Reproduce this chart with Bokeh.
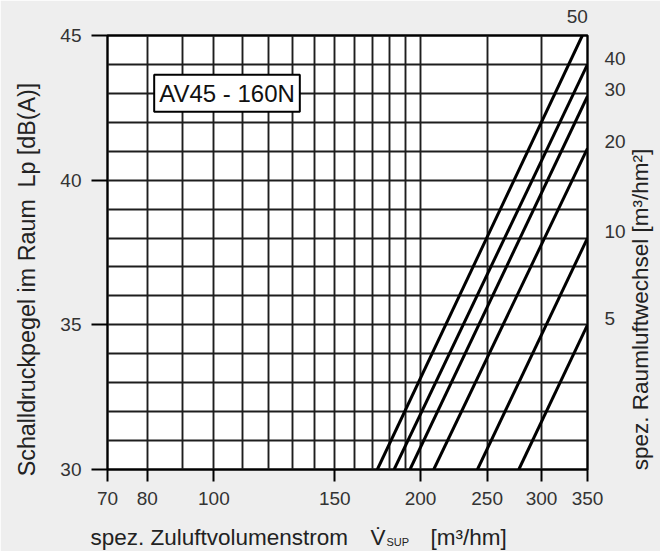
import math

from bokeh.plotting import figure
from bokeh.models import (Range1d, FixedTicker, Label, LinearAxis,
                          NumeralTickFormatter, ColumnDataSource)
from bokeh.embed import file_html
from bokeh.resources import INLINE

# Specific air change rate of each curve [m³/hm²]
air_change = [50, 40, 30, 20, 10, 5]
# Supply flow where each curve leaves the 30 dB(A) line [m³/hm]
flow_at_30 = [173, 183, 193, 209, 242, 278]
# End point of each curve (flow [m³/hm], sound pressure level [dB(A)])
flow_end = [344, 350, 350, 350, 350, 350]
level_end = [45.0, 44.0, 42.9, 41.1, 38.0, 35.0]

x_ticks = [70, 80, 100, 150, 200, 250, 300, 350]
x_grid = [70, 80, 90, 100, 110, 120, 130, 140, 150, 160, 170, 180, 190, 200, 250, 300, 350]
y_ticks = [30, 35, 40, 45]
y_grid = list(range(30, 46))

FONT = "Liberation Sans"
BG = "#eeeeee"
TICK_SIZE = "19px"
TITLE_SIZE = "22.5px"
EN = "\u2002"  # en space, kept as-is in SVG text

p = figure(
    x_axis_type="log",
    x_range=Range1d(70, 350),
    y_range=Range1d(30, 45),
    width=660,
    height=551,
    min_border_left=107,
    min_border_right=73,
    min_border_top=35,
    min_border_bottom=82,
    output_backend="svg",
    toolbar_location=None,
    background_fill_color="white",
    border_fill_color=BG,
)

p.outline_line_color = "black"
p.outline_line_width = 2.4

# grid: every 10 m³/hm up to 200, then every 50; every 1 dB
p.xgrid.ticker = FixedTicker(ticks=x_grid)
p.ygrid.ticker = FixedTicker(ticks=y_grid)
for g in (p.xgrid, p.ygrid):
    g.grid_line_color = "#1e1e1e"
    g.grid_line_width = 1.9
    g.grid_line_alpha = 1.0

# main axes
p.xaxis.ticker = FixedTicker(ticks=x_ticks)
p.xaxis.formatter = NumeralTickFormatter(format="0")
p.yaxis.ticker = FixedTicker(ticks=y_ticks)
for ax, tick_out in ((p.xaxis, 12), (p.yaxis, 16)):
    ax.axis_line_color = None
    ax.major_tick_line_color = "black"
    ax.major_tick_line_width = 2
    ax.major_tick_in = 0
    ax.major_tick_out = tick_out
    ax.minor_tick_line_color = None
    ax.major_label_text_font = FONT
    ax.major_label_text_font_size = TICK_SIZE
    ax.major_label_text_color = "#333333"
    ax.major_label_standoff = 10

# curves
src = ColumnDataSource(dict(
    xs=[[a, b] for a, b in zip(flow_at_30, flow_end)],
    ys=[[30, lv] for lv in level_end],
))
p.multi_line(xs="xs", ys="ys", source=src, line_color="black", line_width=3)

# air change labels at the right edge, sitting just above each curve's end
label_pos = [round(lv + 0.22, 2) for lv in level_end[1:]]
rate_axis = LinearAxis(
    ticker=FixedTicker(ticks=label_pos),
    major_label_overrides={pos: str(r) for pos, r in zip(label_pos, air_change[1:])},
    axis_line_color=None,
    major_tick_line_color=None,
    minor_tick_line_color=None,
    major_label_standoff=11,
    major_label_text_font=FONT,
    major_label_text_font_size=TICK_SIZE,
    major_label_text_color="#333333",
)
p.add_layout(rate_axis, "right")

# the 50 curve leaves through the top edge: label above it
p.add_layout(Label(x=flow_end[0], y=level_end[0], x_offset=-5, y_offset=19,
                   text=str(air_change[0]), text_align="center",
                   text_baseline="alphabetic", text_font=FONT,
                   text_font_size=TICK_SIZE, text_color="#333333"), "above")

# product designation box
p.add_layout(Label(
    x=104.5, y=43.0, text="AV45 - 160N", text_align="center", text_baseline="middle",
    text_font=FONT, text_font_size="24px", text_color="#111111",
    background_fill_color="white", border_line_color="black", border_line_width=2,
    padding=5,
))

# axis titles, anchored at frame corners and shifted in pixels
title_style = dict(text_font=FONT, text_color="#222222")
p.add_layout(Label(x=70, y=30, x_offset=-81, y_offset=190,
                   text="Schalldruckpegel im Raum" + EN + "Lp [dB(A)]",
                   angle=math.pi / 2, text_align="center", text_baseline="middle",
                   text_font_size="23.3px", **title_style), "left")
p.add_layout(Label(x=350, y=30, x_offset=53, y_offset=160,
                   text="spez. Raumluftwechsel [m³/hm²]",
                   angle=math.pi / 2, text_align="center", text_baseline="middle",
                   text_font_size=TITLE_SIZE, **title_style), "right")
p.add_layout(Label(x=70, y=30, x_offset=-17, y_offset=-68,
                   text="spez. Zuluftvolumenstrom" + EN * 2 + "V\u0307" + EN * 4 + "[m³/hm]",
                   text_align="left", text_baseline="alphabetic",
                   text_font_size=TITLE_SIZE, **title_style), "below")
p.add_layout(Label(x=70, y=30, x_offset=279, y_offset=-72, text="SUP",
                   text_align="left", text_baseline="alphabetic",
                   text_font_size="11px", **title_style), "left")

open("out.html", "w").write(file_html(p, INLINE))
